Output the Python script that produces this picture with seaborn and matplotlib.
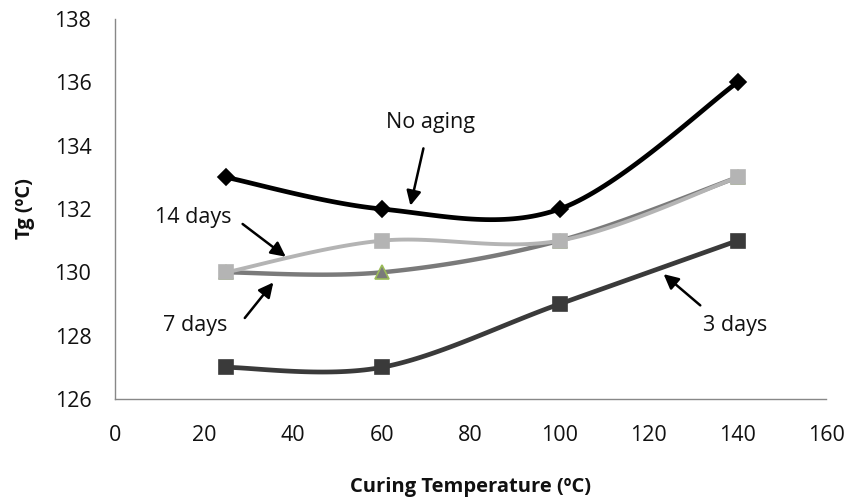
import numpy as np
import pandas as pd
import matplotlib
matplotlib.use("Agg")
import matplotlib.pyplot as plt
import seaborn as sns

curing_temp = [25, 60, 100, 140]
no_aging = [133, 132, 132, 136]
days_3 = [127, 127, 129, 131]
days_7 = [130, 130, 131, 133]
days_14 = [130, 131, 131, 133]

x_ticks = [0, 20, 40, 60, 80, 100, 120, 140, 160]
y_ticks = [126, 128, 130, 132, 134, 136, 138]


def smooth(xs, ys, n=40):
    """Excel-like smoothed line (Catmull-Rom Bezier)."""
    xs = np.asarray(xs, float)
    ys = np.asarray(ys, float)
    px = np.concatenate([[xs[0]], xs, [xs[-1]]])
    py = np.concatenate([[ys[0]], ys, [ys[-1]]])
    ox, oy = [], []
    for i in range(1, len(px) - 2):
        p0 = np.array([px[i], py[i]])
        p3 = np.array([px[i + 1], py[i + 1]])
        c1 = p0 + (np.array([px[i + 1], py[i + 1]]) - np.array([px[i - 1], py[i - 1]])) / 6
        c2 = p3 - (np.array([px[i + 2], py[i + 2]]) - np.array([px[i], py[i]])) / 6
        t = np.linspace(0, 1, n)[:, None]
        b = ((1 - t) ** 3) * p0 + 3 * ((1 - t) ** 2) * t * c1 + 3 * (1 - t) * t ** 2 * c2 + t ** 3 * p3
        if i > 1:
            b = b[1:]
        ox.extend(b[:, 0])
        oy.extend(b[:, 1])
    return np.array(ox), np.array(oy)


sns.set_style("white")
plt.rcParams["font.family"] = ["Open Sans", "DejaVu Sans"]

fig = plt.figure(figsize=(8.48, 5.0), dpi=100)
ax = fig.add_axes([0.1356, 0.202, 0.839, 0.760])

series = [
    ("3 days", days_3, "#3a3a3a", "s", "#3a3a3a", "#3a3a3a", 3.4, 9.5),
    ("7 days", days_7, "#7a7a7a", "^", "#7a7a7a", "#9bbb59", 3.2, 10.5),
    ("14 days", days_14, "#b4b4b4", "s", "#b4b4b4", "#b4b4b4", 2.8, 9.5),
    ("No aging", no_aging, "#000000", "D", "#000000", "#000000", 3.4, 8.5),
]

for name, vals, col, mk, fc, ec, lw, ms in series:
    sx, sy = smooth(curing_temp, vals)
    sns.lineplot(x=sx, y=sy, ax=ax, color=col, linewidth=lw, sort=False, zorder=2)
    ax.plot(curing_temp, vals, linestyle="none", marker=mk, markersize=ms,
            markerfacecolor=fc, markeredgecolor=ec, markeredgewidth=1.2, zorder=3)

ax.set_xlim(0, 160)
ax.set_ylim(126, 138)
ax.set_xticks(x_ticks)
ax.set_yticks(y_ticks)
ax.tick_params(axis="both", length=0, labelsize=15.5, colors="#111111")
ax.tick_params(axis="x", pad=19)
ax.tick_params(axis="y", pad=17)
for s in ["top", "right"]:
    ax.spines[s].set_visible(False)
for s in ["left", "bottom"]:
    ax.spines[s].set_color("#888888")
    ax.spines[s].set_linewidth(1.0)

ax.set_xlabel("Curing Temperature (ºC)", fontsize=14.5, fontweight="bold", labelpad=22, color="#111111")
ax.set_ylabel("Tg (ºC)", fontsize=14.5, fontweight="bold", labelpad=14, color="#111111")

arrow = dict(arrowstyle="-|>", color="black", lw=1.8, mutation_scale=22)
tfs = 15.5
ax.annotate("", xy=(66.3, 132.02), xytext=(69.5, 134.0), arrowprops=arrow)
ax.text(70.9, 134.74, "No aging", fontsize=tfs, ha="center", va="center", color="#111111")
ax.annotate("", xy=(38.9, 130.44), xytext=(28.2, 131.58), arrowprops=arrow)
ax.text(17.5, 131.72, "14 days", fontsize=tfs, ha="center", va="center", color="#111111")
ax.annotate("", xy=(36.0, 129.75), xytext=(28.8, 128.49), arrowprops=arrow)
ax.text(18.0, 128.33, "7 days", fontsize=tfs, ha="center", va="center", color="#111111")
ax.annotate("", xy=(122.9, 130.0), xytext=(132.1, 128.9), arrowprops=arrow)
ax.text(139.4, 128.33, "3 days", fontsize=tfs, ha="center", va="center", color="#111111")

fig.savefig("out.png", dpi=100)
